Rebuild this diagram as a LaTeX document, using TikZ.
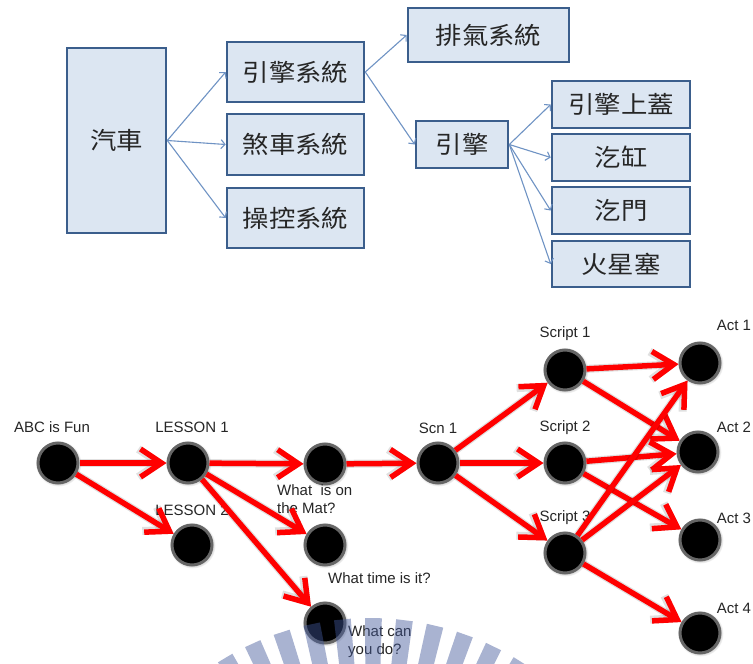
\documentclass[tikz,border=0pt]{standalone}
\usepackage{fontspec}
\newfontfamily\cjk[FakeStretch=1.1]{Noto Sans CJK TC}
\newfontfamily\lsans{Liberation Sans}
\usetikzlibrary{arrows.meta,shadows,calc}
\definecolor{boxfill}{HTML}{DCE6F2}
\definecolor{boxline}{HTML}{3B5E8C}
\definecolor{arrblue}{HTML}{6F93C4}
\definecolor{wmblue}{RGB}{66,88,154}
\begin{document}
\begin{tikzpicture}[x=1pt,y=-1pt,
  cbox/.style={draw=boxline, line width=2.6pt, fill=boxfill, inner sep=0pt, text=black!85,
    font=\cjk\fontsize{24}{26}\selectfont},
  barrow/.style={draw=arrblue, line width=1.1pt, -{Straight Barb[length=4pt,width=9pt]}},
  dot/.style={circle, fill=black, draw=black!60, line width=3pt, minimum size=40pt, inner sep=0pt,
    circular drop shadow={shadow xshift=0.5pt, shadow yshift=-0.5pt, shadow scale=1.15, opacity=0.35}},
  rarrow/.style={draw=red, line width=5.5pt, -{Straight Barb[length=21pt,width=28pt]},
    preaction={draw=black, opacity=0.12, line width=8pt}},
  lab/.style={font=\lsans\fontsize{15}{18}\selectfont, inner sep=0pt, text=black!85}]
\useasboundingbox (0,0) rectangle (753,664);
\fill[white] (0,0) rectangle (753,664);

% ---------- top diagram ----------
\node[cbox, minimum width=99pt, minimum height=185pt] (car) at (116.5,140.5) {汽車};
\node[cbox, minimum width=137pt, minimum height=60pt] (engsys) at (295.5,72) {引擎系統};
\node[cbox, minimum width=137pt, minimum height=61pt] (brake) at (295.5,144.5) {煞車系統};
\node[cbox, minimum width=137pt, minimum height=60pt] (ctrl) at (295.5,218) {操控系統};
\node[cbox, minimum width=161pt, minimum height=54pt] (exh) at (488.5,35) {排氣系統};
\node[cbox, minimum width=92pt, minimum height=47pt] (eng) at (462,144.5) {引擎};
\node[cbox, minimum width=138pt, minimum height=47pt] (cover) at (621,104.5) {引擎上蓋};
\node[cbox, minimum width=138pt, minimum height=47pt] (cyl) at (621,157.5) {汔缸};
\node[cbox, minimum width=138pt, minimum height=47pt] (valve) at (621,210.5) {汔門};
\node[cbox, minimum width=138pt, minimum height=46pt] (plug) at (621,264) {火星塞};

\draw[barrow] (car.east) -- (engsys.west);
\draw[barrow] (car.east) -- (brake.west);
\draw[barrow] (car.east) -- (ctrl.west);
\draw[barrow] (engsys.east) -- (exh.west);
\draw[barrow] (engsys.east) -- (eng.west);
\draw[barrow] (eng.east) -- (cover.west);
\draw[barrow] (eng.east) -- (cyl.west);
\draw[barrow] (eng.east) -- (valve.west);
\draw[barrow] (eng.east) -- (plug.west);

% ---------- bottom diagram ----------
\node[dot] (abc) at (58,463) {};
\node[dot] (l1) at (188,463) {};
\node[dot] (l2) at (192,545) {};
\node[dot] (w1) at (325,464) {};
\node[dot] (w2) at (325,545) {};
\node[dot] (w3) at (325,623) {};
\node[dot] (scn) at (438,463) {};
\node[dot] (s1) at (565,370) {};
\node[dot] (s2) at (565,463) {};
\node[dot] (s3) at (565,553) {};
\node[dot] (a1) at (700,363) {};
\node[dot] (a2) at (698,452) {};
\node[dot] (a3) at (700,540) {};
\node[dot] (a4) at (700,633) {};

\node[lab] (tabc) at (52,427) {ABC is Fun};
\node[lab] (tl1) at (192,427) {LESSON 1};
\node[lab] (tl2) at (192,510) {LESSON 2};
\node[lab, anchor=west, align=left] (tw1) at (277,499) {What\ \ is on\\the Mat?};
\node[lab, anchor=west] (tw2) at (328,578) {What time is it?};
\node[lab, anchor=west, align=left] (tw3) at (348,642) {What can\\you do?};
\node[lab] (tscn) at (438,428) {Scn 1};
\node[lab] (ts1) at (565,334) {Script 1};
\node[lab] (ts2) at (565,428) {Script 2};
\node[lab] (ts3) at (565,518) {Script 3};
\node[lab] (ta1) at (734,325) {Act 1};
\node[lab] (ta2) at (734,427) {Act 2};
\node[lab] (ta3) at (734,518) {Act 3};
\node[lab] (ta4) at (734,608) {Act 4};

\draw[rarrow] (abc) -- (l1);
\draw[rarrow] (abc) -- (l2);
\draw[rarrow] (l1) -- (w1);
\draw[rarrow] (l1) -- (w2);
\draw[rarrow] (l1) -- (w3);
\draw[rarrow] (w1) -- (scn);
\draw[rarrow] (scn) -- (s1);
\draw[rarrow] (scn) -- (s2);
\draw[rarrow] (scn) -- (s3);
\draw[rarrow] (s1) -- (a1);
\draw[rarrow] (s1) -- (a2);
\draw[rarrow] (s2) -- (a2);
\draw[rarrow] (s2) -- (a3);
\draw[rarrow] (s3) -- (a1);
\draw[rarrow] (s3) -- (a2);
\draw[rarrow] (s3) -- (a4);

% ---------- watermark stripes ----------
\begin{scope}
\clip (0,0) rectangle (753,664);
\foreach \t in {-37.1,-30.8,-24.5,-18.2,-11.9,-5.6,0.7,7.0,13.3,19.6,25.9,32.2}{
  \fill[wmblue, opacity=0.45]
    ({370+283*sin(\t-1.7)},{901-283*cos(\t-1.7)}) --
    ({370+283*sin(\t+1.7)},{901-283*cos(\t+1.7)}) --
    ({370+200*sin(\t+2.0)},{901-200*cos(\t+2.0)}) --
    ({370+200*sin(\t-2.0)},{901-200*cos(\t-2.0)}) -- cycle;
}
\end{scope}
\end{tikzpicture}
\end{document}
